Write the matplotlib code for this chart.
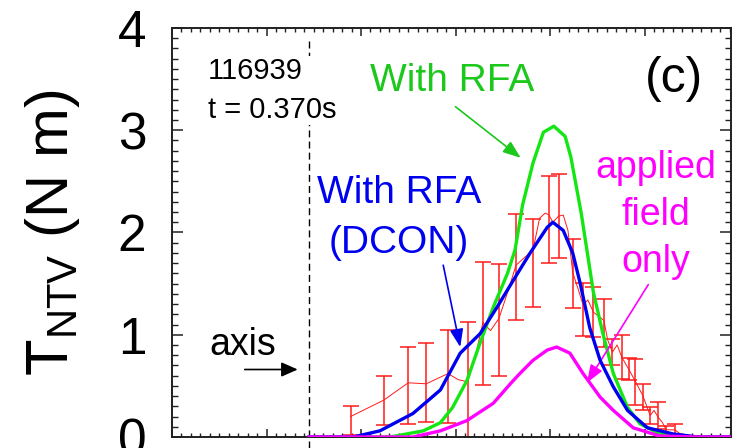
import numpy as np
import matplotlib
matplotlib.use("Agg")
import matplotlib.pyplot as plt
from matplotlib.ticker import MultipleLocator

plt.rcParams["font.family"] = ["Liberation Sans", "DejaVu Sans"]
plt.rcParams["mathtext.fontset"] = "custom"
plt.rcParams["mathtext.rm"] = "Liberation Sans"

# ── data ───────────────────────────────────────────────────────────────────
axis_x = 1.45

green_x = [1.45, 2.31, 2.66, 2.84, 2.97, 3.12, 3.26, 3.40, 3.55, 3.63, 3.71, 3.82, 3.93,
           4.04, 4.16, 4.22, 4.33, 4.46, 4.56, 4.67, 4.82, 4.95, 5.16, 5.45, 5.92]
green_y = [0.00, 0.00, 0.06, 0.14, 0.29, 0.55, 0.92, 1.27, 1.60, 1.83, 2.27, 2.68, 2.98,
           3.04, 2.94, 2.74, 2.19, 1.41, 1.01, 0.62, 0.29, 0.13, 0.03, 0.00, 0.00]

blue_x = [1.45, 1.92, 2.20, 2.55, 2.84, 3.05, 3.26, 3.44, 3.61, 3.79, 3.97, 4.03,
          4.14, 4.24, 4.32, 4.42, 4.53, 4.67, 4.82, 5.03, 5.30, 5.56, 5.92]
blue_y = [0.00, 0.00, 0.06, 0.23, 0.46, 0.82, 1.01, 1.27, 1.53, 1.80, 2.05, 2.10,
          2.02, 1.80, 1.50, 1.07, 0.75, 0.49, 0.26, 0.09, 0.03, 0.00, 0.00]

mag_x = [1.45, 2.55, 2.84, 3.12, 3.40, 3.58, 3.68, 3.82, 3.97, 4.07, 4.21, 4.35,
         4.53, 4.67, 4.88, 5.16, 5.56, 5.92]
mag_y = [0.00, 0.00, 0.06, 0.16, 0.33, 0.52, 0.62, 0.75, 0.85, 0.88, 0.82, 0.62,
         0.39, 0.26, 0.09, 0.01, 0.00, 0.00]

# measured profile (thin red line)
meas_x = [1.89, 2.24, 2.50, 2.69, 2.92, 3.03, 3.13, 3.22, 3.29, 3.37, 3.46, 3.56,
          3.64, 3.82, 3.89, 3.95, 3.99, 4.03, 4.09, 4.14, 4.19, 4.24, 4.30, 4.35,
          4.40, 4.46, 4.57, 4.61, 4.66, 4.71, 4.76, 4.84, 4.90, 4.95, 4.98, 5.06,
          5.10, 5.14, 5.19, 5.23, 5.32, 5.38, 5.59]
meas_y = [0.20, 0.36, 0.53, 0.52, 0.62, 0.56, 0.54, 0.83, 1.12, 1.04, 1.16, 1.44,
          1.68, 1.83, 2.14, 2.19, 2.17, 2.10, 2.16, 2.17, 2.02, 1.61, 1.44, 1.29,
          1.34, 1.22, 1.14, 0.95, 0.83, 0.90, 0.78, 0.65, 0.55, 0.46, 0.41, 0.21,
          0.26, 0.20, 0.14, 0.07, 0.07, 0.03, 0.00]

# error bars: position, centre, lower end, upper end
bar_x = [1.89, 2.24, 2.50, 2.69, 2.92, 3.13, 3.29, 3.46, 3.64, 3.82, 3.99, 4.09,
         4.24, 4.35, 4.46, 4.57, 4.66, 4.76, 4.84, 4.90, 4.98, 5.06, 5.14, 5.23, 5.32]
bar_y = [0.20, 0.36, 0.53, 0.52, 0.62, 0.54, 1.12, 1.16, 1.68, 1.83, 2.17, 2.16,
         1.61, 1.29, 1.22, 1.14, 0.83, 0.78, 0.65, 0.55, 0.41, 0.21, 0.20, 0.07, 0.07]
bar_lo = [0.02, 0.12, 0.13, 0.15, 0.14, -0.02, 0.51, 0.60, 1.14, 1.27, 1.70, 1.75,
          1.26, 0.99, 0.98, 0.88, 0.70, 0.57, 0.56, 0.31, 0.26, 0.13, 0.08, 0.03, 0.02]
bar_hi = [0.30, 0.60, 0.88, 0.92, 1.05, 1.12, 1.71, 1.69, 2.18, 2.13, 2.55, 2.57,
          1.94, 1.51, 1.47, 1.35, 0.96, 1.00, 0.77, 0.76, 0.52, 0.29, 0.34, 0.11, 0.13]

GREEN = "#14E614"
GREEN_TXT = "#1CC81C"
BLUE = "#0000F0"
MAG = "#FF00FF"
RED = "#FF1A1A"

fig = plt.figure(figsize=(7.36, 4.48), dpi=100)
ax = fig.add_axes([0.2337, 0.0246, 0.7595, 0.9129])

# ── measured data ──────────────────────────────────────────────────────────
by = np.array(bar_y)
yerr = [by - np.array(bar_lo), np.array(bar_hi) - by]
ax.errorbar(bar_x, bar_y, yerr=yerr, fmt="none", ecolor=RED, elinewidth=1.1,
            capsize=5.5, capthick=1.1, zorder=2)
ax.plot(meas_x, meas_y, color=RED, lw=0.7, zorder=2)

# ── model curves ───────────────────────────────────────────────────────────
ax.plot(green_x, green_y, color=GREEN, lw=2.4, zorder=3)
ax.plot(blue_x, blue_y, color=BLUE, lw=2.4, zorder=4)
ax.plot(mag_x, mag_y, color=MAG, lw=2.4, zorder=5)

# magnetic axis marker
ax.plot([axis_x, axis_x], [-0.11, 3.88], color="black", lw=1.0,
        ls=(0, (5, 3)), clip_on=False, zorder=1)

# ── annotations ────────────────────────────────────────────────────────────
ax.text(0.38, 3.12, "116939\nt = 0.370s", fontsize=21, va="baseline", ha="left",
        linespacing=1.48, zorder=6,
        bbox=dict(facecolor="white", edgecolor="none", pad=1))
ax.text(5.00, 3.37, "(c)", fontsize=36, va="baseline", ha="left")

ax.text(2.09, 3.38, "With RFA", color=GREEN_TXT, fontsize=28, va="baseline")
ax.annotate("", xy=(3.69, 2.73), xytext=(3.00, 3.23),
            arrowprops=dict(arrowstyle="-|>,head_length=0.4,head_width=0.15",
                            mutation_scale=27, color=GREEN_TXT, lw=1.2,
                            shrinkA=0, shrinkB=0))

ax.text(2.40, 2.29, "With RFA", color=BLUE, fontsize=28, va="baseline", ha="center")
ax.text(2.40, 1.80, "(DCON)", color=BLUE, fontsize=28, va="baseline", ha="center")
ax.annotate("", xy=(3.05, 0.88), xytext=(2.87, 1.68),
            arrowprops=dict(arrowstyle="-|>,head_length=0.4,head_width=0.15",
                            mutation_scale=27, color=BLUE, lw=1.2,
                            shrinkA=0, shrinkB=0))

for txt, yy in zip(["applied", "field", "only"], [2.53, 2.07, 1.61]):
    ax.text(5.12, yy, txt, color=MAG, fontsize=27, va="baseline", ha="center")
ax.annotate("", xy=(4.39, 0.53), xytext=(5.04, 1.49),
            arrowprops=dict(arrowstyle="-|>,head_length=0.4,head_width=0.15",
                            mutation_scale=27, color=MAG, lw=1.2,
                            shrinkA=0, shrinkB=0))

ax.text(0.40, 0.80, "axis", fontsize=27, va="baseline", ha="left")
ax.annotate("", xy=(1.33, 0.66), xytext=(0.77, 0.66),
            arrowprops=dict(arrowstyle="-|>,head_length=0.45,head_width=0.2",
                            mutation_scale=22, color="black", lw=1.2,
                            shrinkA=0, shrinkB=0))

# ── axes styling ───────────────────────────────────────────────────────────
ax.set_xlim(0, 5.915)
ax.set_ylim(0, 4)
ax.xaxis.set_major_locator(MultipleLocator(1))
ax.xaxis.set_minor_locator(MultipleLocator(0.1))
ax.yaxis.set_major_locator(MultipleLocator(1))
ax.yaxis.set_minor_locator(MultipleLocator(0.1))
ax.tick_params(axis="both", which="both", direction="in", top=True, right=True,
               colors="#202020")
ax.tick_params(axis="x", which="major", length=6, width=1.1, labelbottom=False)
ax.tick_params(axis="x", which="minor", length=3, width=1.0)
ax.tick_params(axis="y", which="major", length=8, width=1.1, labelsize=37, pad=18.5,
               labelcolor="black")
ax.tick_params(axis="y", which="minor", length=4, width=1.0)
for sp in ax.spines.values():
    sp.set_linewidth(1.4)
    sp.set_color("#202020")

ax.set_ylabel(r"T$_{\mathregular{NTV}}$ (N m)", fontsize=43)
ax.yaxis.set_label_coords(-0.161, 0.5)

fig.savefig("out.png", dpi=100)
